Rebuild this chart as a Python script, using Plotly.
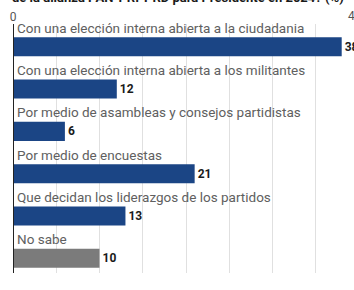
import plotly.graph_objects as go

categories = [
    "Con una elección interna abierta a la ciudadania",
    "Con una elección interna abierta a los militantes",
    "Por medio de asambleas y consejos partidistas",
    "Por medio de encuestas",
    "Que decidan los liderazgos de los partidos",
    "No sabe",
]
values = [38, 12, 6, 21, 13, 10]
bar_colors = ["#1b4585", "#1b4585", "#1b4585", "#1b4585", "#1b4585", "#7b7b7b"]
grid_values = [0, 5, 10, 15, 20, 25, 30, 35, 40]
start_tick = 0
end_tick = 40
x_range = [0, 40]
title_text = "de la alianza PAN-PRI-PRD para Presidente en 2024? (%)"

FONT = "Roboto"

fig = go.Figure()
fig.add_trace(go.Bar(
    x=values,
    y=categories,
    orientation="h",
    marker=dict(color=bar_colors, line=dict(width=0)),
    width=0.45,
    text=[str(v) for v in values],
    textposition="outside",
    textfont=dict(family=FONT, size=12, color="#1a1a1a", weight="bold"),
    cliponaxis=False,
    hoverinfo="skip",
))

for cat in categories:
    fig.add_annotation(
        x=0, y=cat, xref="x", yref="y",
        text=cat, showarrow=False,
        xanchor="left", yanchor="middle",
        xshift=2, yshift=19,
        font=dict(family=FONT, size=13.5, color="#606060"),
    )

# end-of-axis tick label (sits at the right edge of the x range)
fig.add_annotation(
    x=end_tick, y=1, xref="x", yref="paper",
    text=str(end_tick), showarrow=False,
    xanchor="center", yanchor="middle",
    xshift=-4, yshift=8,
    font=dict(family=FONT, size=12, color="#555555"),
)

fig.add_annotation(
    x=0, y=1, xref="paper", yref="paper",
    text=title_text, showarrow=False,
    xanchor="left", yanchor="middle",
    xshift=-3, yshift=27,
    font=dict(family=FONT, size=13, color="#1a1a1a", weight="bold"),
)

fig.update_layout(
    width=370, height=290,
    margin=dict(l=10, r=11, t=22, b=17),
    paper_bgcolor="white", plot_bgcolor="white",
    showlegend=False,
    bargap=0.55,
    xaxis=dict(
        side="top", range=x_range, autorange=False,
        tickvals=grid_values,
        ticktext=[str(v) if v == start_tick else "" for v in grid_values],
        showgrid=True, gridcolor="#e0e0e0", gridwidth=1,
        zeroline=False, showline=False, ticks="",
        tickfont=dict(family=FONT, size=12, color="#555555"),
        fixedrange=True,
    ),
    yaxis=dict(
        range=[5.35, -0.54], autorange=False, showticklabels=False, showgrid=False,
        zeroline=False, showline=False, ticks="", fixedrange=True,
    ),
    shapes=[dict(
        type="line", xref="x", yref="paper", x0=0, x1=0, y0=0, y1=1,
        line=dict(color="#222222", width=2),
    )],
)

fig.write_html(
    "out.html",
    config={"displayModeBar": False},
    post_script="document.body.style.margin='0';document.body.style.overflow='hidden';",
)
